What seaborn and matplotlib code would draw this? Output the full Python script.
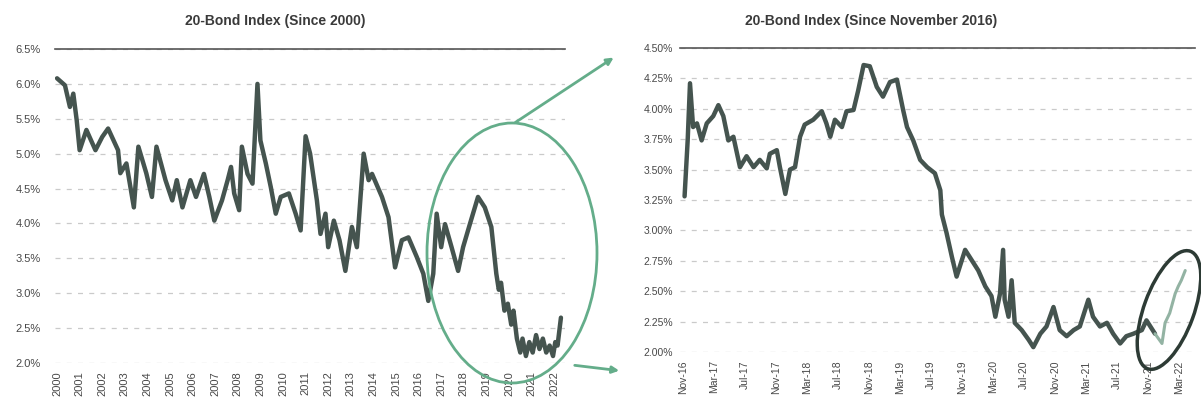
import matplotlib
matplotlib.use("Agg")
import matplotlib.pyplot as plt
from matplotlib.patches import Ellipse, FancyArrowPatch
import seaborn as sns
import pandas as pd

# Indice obligataire 20 ans - depuis 2000 (années décimales, taux en %)
left_years = [2000.0, 2000.35, 2000.57, 2000.72, 2000.87, 2001.0, 2001.3, 2001.7, 2002.0, 2002.26,
              2002.7, 2002.8, 2003.07, 2003.4, 2003.6, 2003.95, 2004.2, 2004.4, 2004.8, 2005.1,
              2005.3, 2005.55, 2005.9, 2006.15, 2006.5, 2006.74, 2006.96, 2007.3, 2007.55, 2007.7,
              2007.84, 2008.06, 2008.18, 2008.43, 2008.65, 2008.87, 2009.0, 2009.24, 2009.46, 2009.68,
              2009.9, 2010.26, 2010.56, 2010.78, 2011.0, 2011.2, 2011.5, 2011.66, 2011.88, 2012.0,
              2012.25, 2012.5, 2012.76, 2013.05, 2013.27, 2013.57, 2013.79, 2013.94, 2014.38, 2014.67,
              2014.96, 2015.26, 2015.55, 2015.92, 2016.21, 2016.43, 2016.65, 2016.8, 2017.0, 2017.17,
              2017.46, 2017.75, 2017.97, 2018.27, 2018.63, 2018.93, 2019.22, 2019.44, 2019.55, 2019.65,
              2019.8, 2019.95, 2020.1, 2020.2, 2020.35, 2020.5, 2020.6, 2020.75, 2020.9, 2021.05,
              2021.2, 2021.35, 2021.5, 2021.65, 2021.8, 2021.95, 2022.05, 2022.15, 2022.3]
left_values = [6.08, 5.98, 5.67, 5.86, 5.48, 5.05, 5.34, 5.05, 5.24, 5.36,
               5.05, 4.72, 4.86, 4.23, 5.10, 4.72, 4.38, 5.10, 4.62, 4.33,
               4.62, 4.23, 4.62, 4.38, 4.71, 4.38, 4.04, 4.33, 4.62, 4.81,
               4.43, 4.19, 5.10, 4.71, 4.57, 6.00, 5.19, 4.86, 4.52, 4.14,
               4.38, 4.43, 4.14, 3.90, 5.25, 5.00, 4.33, 3.85, 4.14, 3.66,
               4.04, 3.76, 3.32, 3.95, 3.66, 5.00, 4.62, 4.71, 4.38, 4.09,
               3.37, 3.76, 3.80, 3.52, 3.28, 2.89, 3.28, 4.14, 3.66, 3.99,
               3.66, 3.32, 3.66, 3.99, 4.38, 4.23, 3.95, 3.28, 3.05, 3.15,
               2.75, 2.85, 2.55, 2.75, 2.35, 2.15, 2.35, 2.10, 2.30, 2.15,
               2.40, 2.20, 2.35, 2.15, 2.25, 2.10, 2.30, 2.25, 2.65]
left_ticks = list(range(2000, 2023))

# Depuis novembre 2016 (mois écoulés depuis nov. 2016, taux en %)
right_months = [0.2, 0.6, 0.9, 1.3, 1.8, 2.4, 3.06, 3.9, 4.56, 5.2,
                5.85, 6.5, 7.35, 8.2, 9.1, 9.9, 10.8, 11.2, 12.1, 12.5,
                13.2, 13.8, 14.45, 15.1, 15.7, 16.8, 17.9, 18.5, 19.0, 19.6,
                20.5, 21.1, 22.0, 22.6, 23.3, 24.1, 25.0, 25.8, 26.7, 27.6,
                28.4, 28.9, 29.7, 30.6, 31.5, 32.5, 33.2, 33.4, 34.0, 34.7,
                35.3, 35.7, 36.4, 37.2, 38.1, 39.0, 39.8, 40.3, 40.9, 41.3,
                41.5, 42.0, 42.4, 42.8, 43.7, 44.6, 45.2, 46.1, 46.9, 47.8,
                48.6, 49.5, 50.4, 51.2, 52.3, 52.9, 53.8, 54.7, 55.5, 56.4,
                57.2, 58.1, 59.2, 59.8, 60.3, 60.9, 61.8, 62.2, 62.8, 63.5,
                63.9, 64.3, 64.8]
right_values = [3.28, 3.74, 4.21, 3.85, 3.88, 3.74, 3.88, 3.94, 4.03, 3.94,
                3.74, 3.77, 3.52, 3.61, 3.52, 3.58, 3.51, 3.63, 3.66, 3.52,
                3.30, 3.50, 3.52, 3.77, 3.87, 3.91, 3.98, 3.88, 3.77, 3.91,
                3.85, 3.98, 3.99, 4.15, 4.36, 4.35, 4.18, 4.10, 4.22, 4.24,
                3.99, 3.85, 3.74, 3.58, 3.52, 3.47, 3.33, 3.13, 2.98, 2.78,
                2.62, 2.70, 2.84, 2.76, 2.67, 2.54, 2.46, 2.29, 2.48, 2.84,
                2.43, 2.29, 2.59, 2.24, 2.18, 2.10, 2.04, 2.15, 2.21, 2.37,
                2.18, 2.13, 2.18, 2.21, 2.43, 2.29, 2.21, 2.24, 2.15, 2.07,
                2.13, 2.15, 2.18, 2.26, 2.21, 2.15, 2.07, 2.24, 2.32, 2.48,
                2.54, 2.59, 2.67]
right_tick_months = list(range(0, 65, 4))
right_tick_labels = ["Nov-16", "Mar-17", "Jul-17", "Nov-17", "Mar-18", "Jul-18", "Nov-18",
                     "Mar-19", "Jul-19", "Nov-19", "Mar-20", "Jul-20", "Nov-20", "Mar-21",
                     "Jul-21", "Nov-21", "Mar-22"]
highlight_from = 60.9  # partie entourée à droite

LINE = "#45544f"
LIGHT = "#93b3a3"
GREEN = "#64ad8a"
DARK = "#2d3b35"

sns.set_theme(style="white")
plt.rcParams["font.family"] = ["Liberation Sans", "DejaVu Sans"]

W, H = 1201, 413
fig = plt.figure(figsize=(W / 100, H / 100), dpi=100)

ax1 = fig.add_axes([55 / W, 1 - 363 / H, 510 / W, 314 / H])
ax2 = fig.add_axes([680 / W, 1 - 352 / H, 515 / W, 304 / H])

df_left = pd.DataFrame({"annee": left_years, "taux": left_values})
sns.lineplot(data=df_left, x="annee", y="taux", ax=ax1, color=LINE, lw=3.2)

df_right = pd.DataFrame({"mois": right_months, "taux": right_values})
main_part = df_right[df_right["mois"] <= highlight_from]
tail_part = df_right[df_right["mois"] >= highlight_from]
sns.lineplot(data=main_part, x="mois", y="taux", ax=ax2, color=LINE, lw=3.2)
sns.lineplot(data=tail_part, x="mois", y="taux", ax=ax2, color=LIGHT, lw=2.2)

# axes de gauche
ax1.set_xlim(1999.91, 2022.48)
ax1.set_ylim(2.0, 6.5)
ax1.set_yticks([2.0 + 0.5 * i for i in range(10)])
ax1.set_yticklabels([f"{2.0 + 0.5 * i:.1f}%" for i in range(10)])
ax1.set_xticks(left_ticks)
ax1.set_xticklabels([str(y) for y in left_ticks], rotation=90)
ax1.tick_params(axis="y", length=0, pad=10, labelsize=8, labelcolor="#484848")
ax1.tick_params(axis="x", length=0, pad=6, labelsize=8, labelcolor="#484848")

# axes de droite
ax2.set_xlim(-0.39, 66.06)
ax2.set_ylim(2.0, 4.5)
ax2.set_yticks([2.0 + 0.25 * i for i in range(11)])
ax2.set_yticklabels([f"{2.0 + 0.25 * i:.2f}%" for i in range(11)])
ax2.set_xticks(right_tick_months)
ax2.set_xticklabels(right_tick_labels, rotation=90)
ax2.tick_params(axis="y", length=0, pad=5, labelsize=7.5, labelcolor="#484848")
ax2.tick_params(axis="x", length=0, pad=6, labelsize=7.5, labelcolor="#484848")

for ax in (ax1, ax2):
    ax.set_xlabel("")
    ax.set_ylabel("")
    ax.set_facecolor("none")
    ax.yaxis.grid(True, color="#cacaca", lw=0.9, linestyle=(0, (4, 5)))
    ax.xaxis.grid(False)
    for side in ("left", "right", "bottom"):
        ax.spines[side].set_visible(False)
    ax.spines["top"].set_color("#555555")
    ax.spines["top"].set_linewidth(1.2)

fig.text(275 / W, 1 - 21 / H, "20-Bond Index (Since 2000)", ha="center", va="center",
         fontsize=10, fontweight="bold", color="#3a3a3a")
fig.text(871 / W, 1 - 21 / H, "20-Bond Index (Since November 2016)", ha="center", va="center",
         fontsize=10, fontweight="bold", color="#3a3a3a")

# annotations : ellipses et flèches (en pouces, repère de la figure)
def px(x, y):
    return (x / 100, (H - y) / 100)

tr = fig.dpi_scale_trans
fig.add_artist(Ellipse(px(512, 253), 170 / 100, 260 / 100, transform=tr,
                       fill=False, edgecolor=GREEN, lw=2))
fig.add_artist(FancyArrowPatch(px(513, 124), px(616, 56), transform=tr, color=GREEN,
                               lw=2, arrowstyle="-|>", mutation_scale=10))
fig.add_artist(FancyArrowPatch(px(572, 365), px(622, 371), transform=tr, color=GREEN,
                               lw=2, arrowstyle="-|>", mutation_scale=10))
fig.add_artist(Ellipse(px(1169, 310), 50 / 100, 125 / 100, angle=-20, transform=tr,
                       fill=False, edgecolor=DARK, lw=2.5))

fig.savefig("out.png", dpi=100)
